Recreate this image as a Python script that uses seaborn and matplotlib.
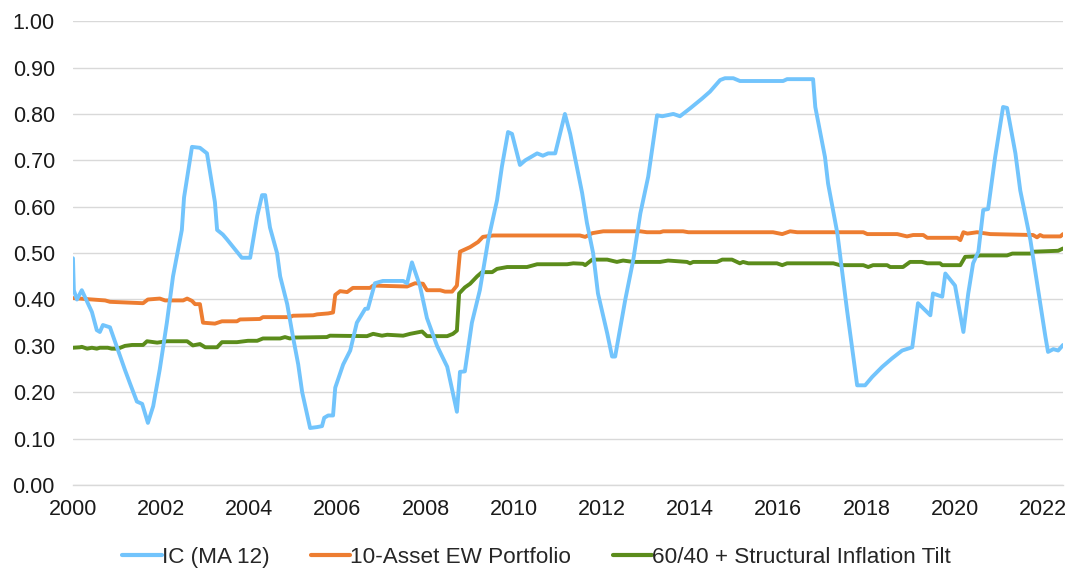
import matplotlib as mpl
mpl.use("Agg")
import matplotlib.pyplot as plt
import seaborn as sns
import pandas as pd

# series names as in the legend
names = ["IC (MA 12)", "10-Asset EW Portfolio", "60/40 + Structural Inflation Tilt"]

# IC (MA 12): years since 2000, value
ic_t = [0.00, 0.02, 0.09, 0.20, 0.43, 0.54, 0.61, 0.68, 0.84, 0.95, 1.18, 1.29, 1.45, 1.57,
        1.70, 1.82, 1.97, 2.13, 2.27, 2.47, 2.52, 2.70, 2.88, 3.04, 3.22, 3.27, 3.40, 3.49,
        3.83, 4.02, 4.18, 4.29, 4.36, 4.47, 4.63, 4.70, 4.86, 4.99, 5.11, 5.20, 5.38, 5.54,
        5.65, 5.70, 5.79, 5.90, 5.95, 6.13, 6.29, 6.44, 6.63, 6.69, 6.85, 7.03, 7.49, 7.58,
        7.69, 7.87, 8.03, 8.26, 8.49, 8.71, 8.78, 8.89, 9.05, 9.23, 9.42, 9.62, 9.73, 9.87,
        9.96, 10.14, 10.26, 10.53, 10.66, 10.78, 10.94, 11.16, 11.28, 11.55, 11.66, 11.80,
        11.91, 12.12, 12.23, 12.30, 12.53, 12.71, 12.87, 13.05, 13.25, 13.37, 13.62, 13.77,
        14.00, 14.27, 14.45, 14.68, 14.79, 14.98, 15.13, 16.11, 16.20, 16.79, 16.84, 17.06,
        17.13, 17.34, 17.56, 17.79, 17.97, 18.13, 18.36, 18.58, 18.81, 19.04, 19.17, 19.45,
        19.51, 19.72, 19.79, 20.01, 20.20, 20.31, 20.42, 20.54, 20.65, 20.76, 20.92, 21.10,
        21.19, 21.38, 21.49, 21.72, 22.06, 22.12, 22.24, 22.35, 22.46]
ic_v = [0.489, 0.42, 0.40, 0.42, 0.373, 0.334, 0.33, 0.345, 0.34, 0.31, 0.248, 0.22, 0.18, 0.175,
        0.134, 0.17, 0.25, 0.35, 0.45, 0.55, 0.62, 0.729, 0.727, 0.715, 0.61, 0.55, 0.54, 0.53,
        0.49, 0.49, 0.58, 0.625, 0.625, 0.555, 0.50, 0.45, 0.39, 0.32, 0.26, 0.20, 0.123, 0.125,
        0.127, 0.145, 0.15, 0.15, 0.21, 0.26, 0.29, 0.35, 0.38, 0.38, 0.435, 0.44, 0.44, 0.435,
        0.48, 0.43, 0.36, 0.30, 0.255, 0.158, 0.244, 0.245, 0.35, 0.42, 0.528, 0.614, 0.686, 0.761,
        0.757, 0.69, 0.70, 0.715, 0.71, 0.715, 0.715, 0.80, 0.757, 0.63, 0.565, 0.50,
        0.413, 0.327, 0.277, 0.277, 0.40, 0.485, 0.585, 0.665, 0.797, 0.795, 0.80, 0.795,
        0.812, 0.833, 0.848, 0.873, 0.877, 0.877, 0.871, 0.871, 0.875, 0.875, 0.815, 0.707,
        0.65, 0.543, 0.377, 0.215, 0.215, 0.233, 0.255, 0.273, 0.29, 0.297, 0.392, 0.366,
        0.413, 0.406, 0.456, 0.43, 0.33, 0.413, 0.478, 0.503, 0.593, 0.595, 0.707, 0.815,
        0.813, 0.715, 0.635, 0.528, 0.32, 0.287, 0.293, 0.29, 0.302]

# 10-Asset EW Portfolio
ew_t = [0.00, 0.73, 0.84, 1.59, 1.70, 1.97, 2.09, 2.50, 2.59, 2.70, 2.77, 2.88, 2.95, 3.22,
        3.38, 3.72, 3.79, 4.24, 4.31, 4.92, 4.99, 5.45, 5.54, 5.79, 5.90, 5.95, 6.06, 6.22,
        6.35, 6.74, 6.81, 7.58, 7.76, 7.94, 8.03, 8.33, 8.44, 8.60, 8.71, 8.78, 9.01, 9.19,
        9.30, 9.53, 11.50, 11.62, 11.78, 12.03, 12.87, 13.02, 13.32, 13.39, 13.84, 13.96,
        15.13, 15.88, 16.09, 16.27, 16.43, 17.93, 18.02, 18.70, 18.92, 19.06, 19.29, 19.38,
        20.06, 20.13, 20.20, 20.29, 20.51, 20.81, 21.78, 21.87, 21.94, 22.01, 22.40, 22.46]
ew_v = [0.403, 0.398, 0.395, 0.392, 0.40, 0.402, 0.398, 0.398, 0.402, 0.397, 0.39, 0.39, 0.35, 0.348,
        0.353, 0.353, 0.357, 0.358, 0.362, 0.362, 0.365, 0.366, 0.368, 0.37, 0.372, 0.41, 0.418, 0.416,
        0.425, 0.425, 0.43, 0.428, 0.435, 0.434, 0.42, 0.42, 0.417, 0.417, 0.43, 0.503, 0.513, 0.524,
        0.535, 0.538, 0.538, 0.535, 0.543, 0.547, 0.547, 0.545, 0.545, 0.547, 0.547, 0.545,
        0.545, 0.545, 0.541, 0.547, 0.545, 0.545, 0.541, 0.541, 0.536, 0.539, 0.539, 0.533,
        0.533, 0.528, 0.545, 0.542, 0.545, 0.541, 0.539, 0.534, 0.539, 0.536, 0.536, 0.541]

# 60/40 + Structural Inflation Tilt
tl_t = [0.00, 0.16, 0.20, 0.32, 0.43, 0.54, 0.61, 0.79, 0.88, 1.02, 1.18, 1.34, 1.59, 1.68,
        1.91, 2.13, 2.59, 2.72, 2.88, 3.00, 3.27, 3.38, 3.72, 3.97, 4.18, 4.31, 4.70, 4.81,
        4.92, 5.04, 5.76, 5.83, 6.67, 6.81, 7.01, 7.13, 7.49, 7.65, 7.92, 8.03, 8.49, 8.62,
        8.71, 8.76, 8.89, 9.01, 9.17, 9.28, 9.51, 9.62, 9.85, 10.30, 10.53, 11.21, 11.35,
        11.57, 11.62, 11.78, 12.12, 12.34, 12.48, 12.71, 13.32, 13.50, 13.93, 14.00, 14.07,
        14.61, 14.73, 14.95, 15.13, 15.20, 15.32, 15.97, 16.09, 16.20, 17.25, 17.40, 17.93,
        18.04, 18.15, 18.47, 18.54, 18.83, 18.99, 19.26, 19.38, 19.67, 19.72, 20.13, 20.24,
        20.47, 20.58, 21.19, 21.31, 21.72, 21.78, 22.35, 22.46]
tl_v = [0.296, 0.297, 0.298, 0.294, 0.296, 0.294, 0.296, 0.296, 0.294, 0.294, 0.30, 0.302, 0.302, 0.31,
        0.307, 0.31, 0.31, 0.301, 0.304, 0.297, 0.297, 0.308, 0.308, 0.311, 0.311, 0.316, 0.316, 0.319,
        0.316, 0.318, 0.319, 0.322, 0.321, 0.326, 0.322, 0.324, 0.322, 0.326, 0.331, 0.321, 0.321, 0.326,
        0.333, 0.413, 0.426, 0.434, 0.45, 0.459, 0.459, 0.466, 0.47, 0.47, 0.476, 0.476, 0.478,
        0.477, 0.474, 0.486, 0.486, 0.481, 0.484, 0.481, 0.481, 0.484, 0.481, 0.478, 0.481,
        0.481, 0.486, 0.486, 0.478, 0.481, 0.478, 0.478, 0.474, 0.478, 0.478, 0.474, 0.474,
        0.47, 0.474, 0.474, 0.47, 0.47, 0.481, 0.481, 0.478, 0.478, 0.474, 0.474, 0.492,
        0.493, 0.495, 0.495, 0.499, 0.499, 0.503, 0.505, 0.51]

colors = ["#72C4FC", "#ED7D31", "#5B8C1B"]

frames = []
for name, t, v in zip(names, [ic_t, ew_t, tl_t], [ic_v, ew_v, tl_v]):
    frames.append(pd.DataFrame({"year": [2000 + x for x in t], "value": v, "series": name}))
df = pd.concat(frames, ignore_index=True)

sns.set_style("white")
plt.rcParams["font.family"] = ["Liberation Sans", "DejaVu Sans"]

fig = plt.figure(figsize=(10.73, 5.72), dpi=100)
ax = fig.add_axes([0.068, 0.152, 0.9227, 0.811])

sns.lineplot(data=df, x="year", y="value", hue="series", hue_order=names,
             palette=colors, estimator=None, sort=False, linewidth=2.8, ax=ax)
# IC line sits on top of the others
ax.lines[0].set_zorder(4)

ax.set_xlim(2000, 2022.46)
ax.set_ylim(0, 1.0)
ax.set_xticks(range(2000, 2023, 2))
ax.set_yticks([i / 10 for i in range(11)])
ax.yaxis.set_major_formatter(mpl.ticker.FormatStrFormatter("%.2f"))
ax.grid(axis="y", color="#D9D9D9", linewidth=1.0)
ax.set_axisbelow(True)
for s in ["top", "right", "left"]:
    ax.spines[s].set_visible(False)
ax.spines["bottom"].set_color("#D9D9D9")
ax.spines["bottom"].set_linewidth(1.0)
ax.tick_params(axis="x", length=5, width=1, color="#D9D9D9", pad=5, labelsize=15.5, labelcolor="#1a1a1a")
ax.tick_params(axis="y", length=0, pad=13, labelsize=15.5, labelcolor="#1a1a1a")
ax.set_xlabel("")
ax.set_ylabel("")

handles, labels = ax.get_legend_handles_labels()
leg = ax.legend(handles, labels, loc="center", bbox_to_anchor=(0.5, 0.026),
                bbox_transform=fig.transFigure, ncol=3, frameon=False, fontsize=16.2,
                handlelength=1.75, handletextpad=0.0, columnspacing=1.85)
for h in leg.get_lines():
    h.set_linewidth(3.0)

fig.savefig("out.png", dpi=100)
